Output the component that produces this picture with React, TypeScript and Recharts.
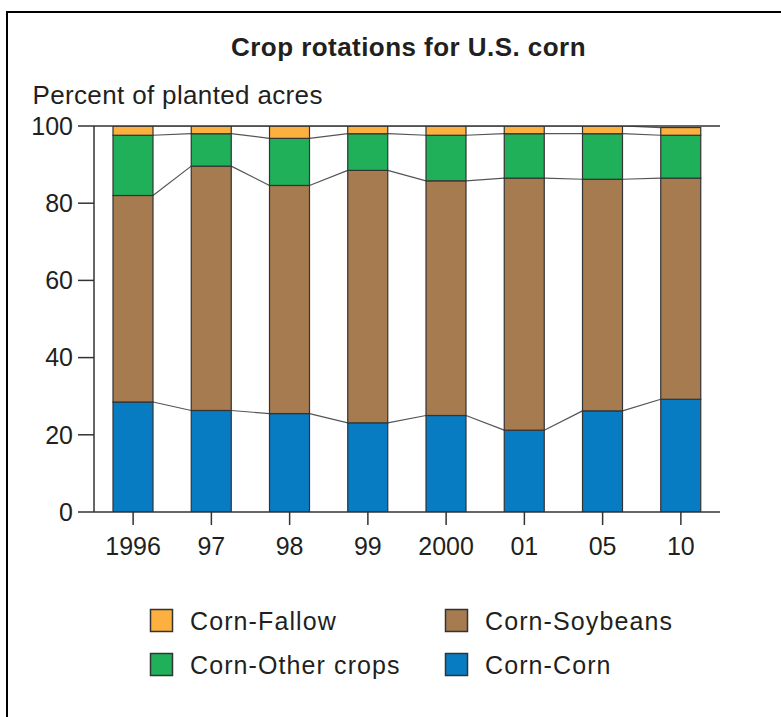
import React from "react";
import { BarChart, Bar, XAxis, YAxis, ReferenceLine } from "recharts";

// Years shown on the category axis
const years = ["1996", "97", "98", "99", "2000", "01", "05", "10"];

// Share of planted corn acres by rotation (percent)
const cornCorn = [28.5, 26.3, 25.5, 23.1, 25.0, 21.2, 26.2, 29.2];
const cornSoybeans = [53.5, 63.3, 59.1, 65.4, 60.8, 65.3, 60.0, 57.3];
const cornOther = [15.6, 8.4, 12.2, 9.5, 11.8, 11.5, 11.8, 11.1];
const cornFallow = [2.4, 2.0, 3.2, 2.0, 2.4, 2.0, 2.0, 2.0];

const yTicks = [0, 20, 40, 60, 80, 100];

const COLORS = {
  fallow: "#FCB040",
  soy: "#A67B50",
  other: "#21B05A",
  corn: "#087CC3",
};

const TEXT = "#231F20";
const AXIS = "#333333";
const FONT = "'Liberation Sans', Arial, Helvetica, sans-serif";

// Chart geometry
const W = 781;
const H = 717;
const MARGIN = { top: 126, right: 61, bottom: 165, left: 0 };
const Y_AXIS_W = 94;
const PLOT_W = W - MARGIN.left - MARGIN.right - Y_AXIS_W;
const BAND = PLOT_W / years.length;

// Stacking order, bottom to top
const stackOrder = [
  { key: "corn", name: "Corn-Corn", values: cornCorn, color: COLORS.corn },
  { key: "soy", name: "Corn-Soybeans", values: cornSoybeans, color: COLORS.soy },
  { key: "other", name: "Corn-Other crops", values: cornOther, color: COLORS.other },
  { key: "fallow", name: "Corn-Fallow", values: cornFallow, color: COLORS.fallow },
];

// Legend reading order (two columns)
const legendOrder = ["fallow", "soy", "other", "corn"];

const data = years.map((year, i) => ({
  year,
  corn: cornCorn[i],
  soy: cornSoybeans[i],
  other: cornOther[i],
  fallow: cornFallow[i],
}));

// Cumulative top of each stack layer per year
const cumulative: number[][] = [];
stackOrder.forEach((s, k) => {
  cumulative.push(
    s.values.map((v, i) => (k === 0 ? 0 : cumulative[k - 1][i]) + v)
  );
});

// Bar segment that also draws the thin connector from its top edge
// to the top edge of the same layer in the next year's bar.
const makeShape = (layer: number, color: string) => (props: any) => {
  const { x, y, width, height, index } = props;
  const top = cumulative[layer][index];
  const bottom = layer === 0 ? 0 : cumulative[layer - 1][index];
  const ppu = height / (top - bottom);
  const hasNext = index < years.length - 1;
  let connector = null;
  if (hasNext && isFinite(ppu)) {
    const nextTop = cumulative[layer][index + 1];
    const yNext = y + (top - nextTop) * ppu;
    connector = (
      <line
        x1={x + width}
        y1={y}
        x2={x + BAND}
        y2={yNext}
        stroke="#555"
        strokeWidth={1.2}
      />
    );
  }
  return (
    <g>
      <rect
        x={x}
        y={y}
        width={width}
        height={height}
        fill={color}
        stroke={AXIS}
        strokeWidth={1.2}
      />
      {connector}
    </g>
  );
};

export default function App() {
  return (
    <div
      style={{
        position: "absolute",
        left: 0,
        top: 0,
        width: W,
        height: H,
        overflow: "hidden",
        background: "#fff",
      }}
    >
      <div
        style={{
          position: "absolute",
          left: 6,
          top: 10.5,
          width: 900,
          height: 900,
          borderLeft: "2.5px solid #000",
          borderTop: "2.5px solid #000",
        }}
      />
      <div style={{ position: "absolute", left: 0, top: 0 }}>
        <BarChart width={W} height={H} data={data} margin={MARGIN} barSize={40}>
          <XAxis
            dataKey="year"
            height={40}
            tickSize={13}
            tickMargin={12}
            axisLine={{ stroke: AXIS, strokeWidth: 1.5 }}
            tickLine={{ stroke: AXIS, strokeWidth: 1.5 }}
            tick={{ fontSize: 25, fill: TEXT, fontFamily: FONT }}
            interval={0}
          />
          <YAxis
            width={Y_AXIS_W}
            domain={[0, 100]}
            ticks={yTicks}
            tickSize={16}
            tickMargin={5}
            axisLine={{ stroke: AXIS, strokeWidth: 1.5 }}
            tickLine={{ stroke: AXIS, strokeWidth: 1.5 }}
            tick={{ fontSize: 25, fill: TEXT, fontFamily: FONT }}
            allowDataOverflow
          />
          <YAxis
            yAxisId="frame"
            orientation="right"
            width={0}
            domain={[0, 100]}
            tick={false}
            tickLine={false}
            axisLine={{ stroke: AXIS, strokeWidth: 1.5 }}
          />
          {stackOrder.map((s, k) => (
            <Bar
              key={s.key}
              dataKey={s.key}
              name={s.name}
              stackId="rot"
              fill={s.color}
              isAnimationActive={false}
              shape={makeShape(k, s.color)}
            />
          ))}
          <ReferenceLine y={100} stroke={AXIS} strokeWidth={1.5} />
        </BarChart>
      </div>
      <svg
        width={W}
        height={H}
        style={{ position: "absolute", left: 0, top: 0, pointerEvents: "none" }}
      >
        <text
          x={408.5}
          y={56}
          textAnchor="middle"
          fontFamily={FONT}
          fontWeight="bold"
          fontSize={26}
          letterSpacing={0.45}
          fill={TEXT}
        >
          Crop rotations for U.S. corn
        </text>
        <text
          x={32.5}
          y={103.5}
          fontFamily={FONT}
          fontSize={26}
          letterSpacing={0.35}
          fill={TEXT}
        >
          Percent of planted acres
        </text>
        {legendOrder.map((key, i) => {
          const s = stackOrder.find((d) => d.key === key)!;
          const col = i % 2;
          const row = Math.floor(i / 2);
          const sx = col === 0 ? 150.5 : 445.5;
          const sy = row === 0 ? 609.5 : 653.5;
          return (
            <g key={key}>
              <rect
                x={sx}
                y={sy}
                width={22}
                height={22}
                fill={s.color}
                stroke={AXIS}
                strokeWidth={1.5}
              />
              <text
                x={sx + 39.5}
                y={sy + 20}
                fontFamily={FONT}
                fontSize={25}
                letterSpacing={1.1}
                fill={TEXT}
              >
                {s.name}
              </text>
            </g>
          );
        })}
      </svg>
    </div>
  );
}
